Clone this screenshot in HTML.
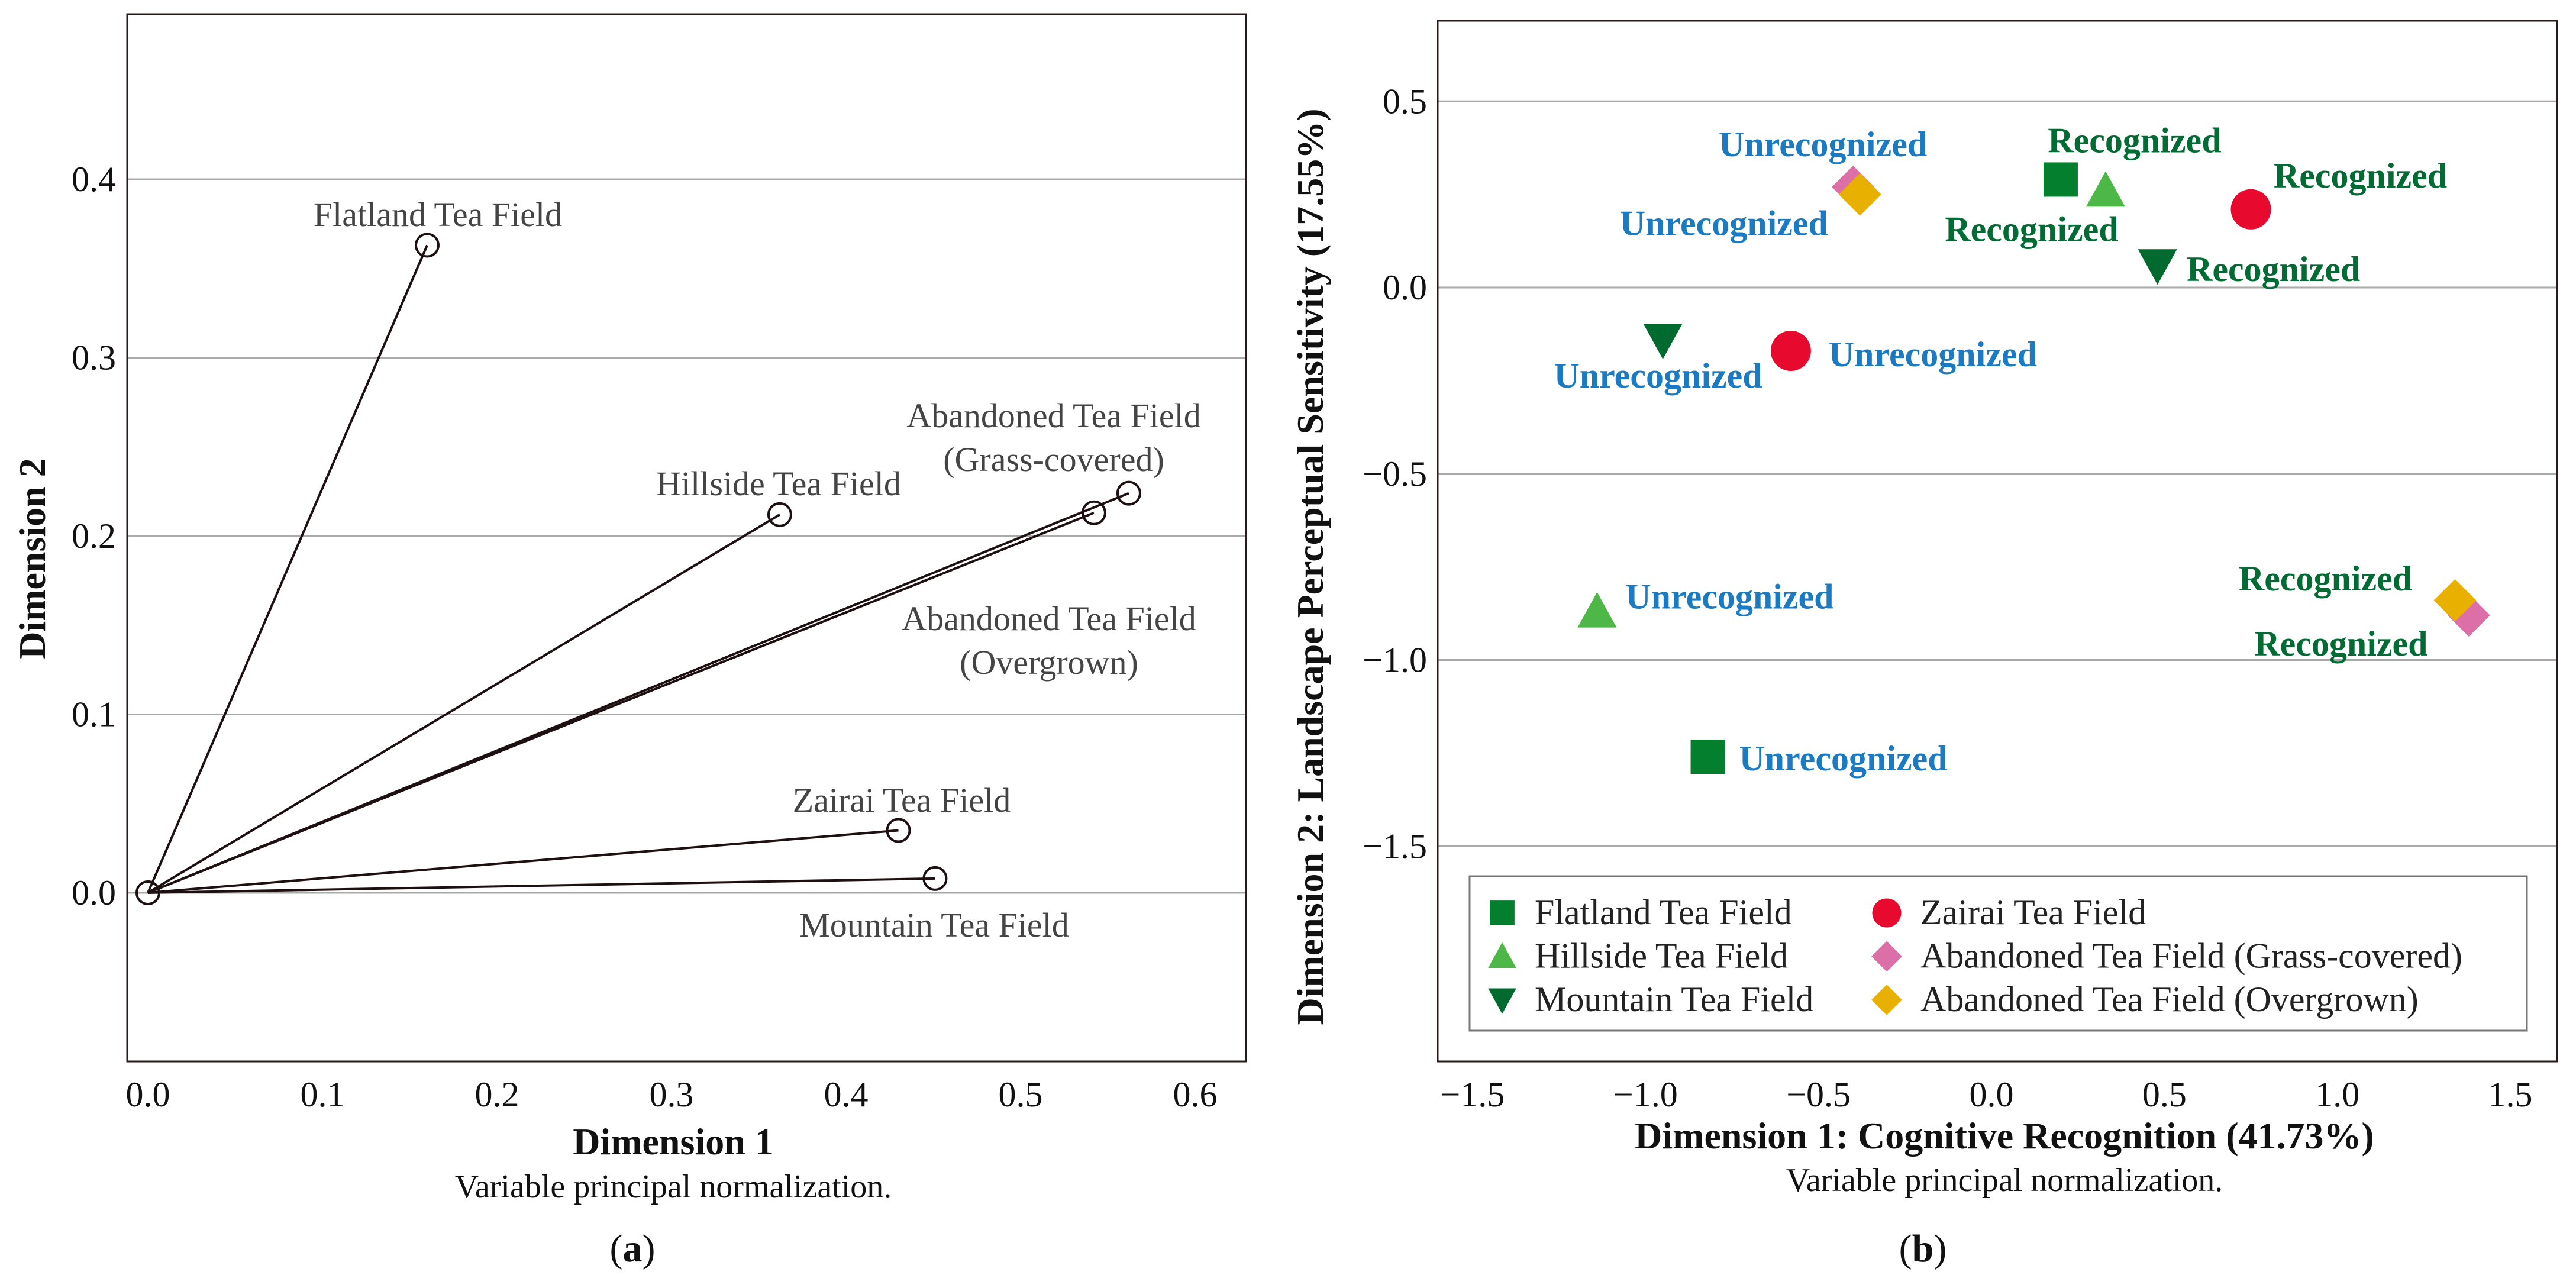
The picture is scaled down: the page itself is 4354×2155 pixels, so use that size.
<!DOCTYPE html>
<html><head><meta charset="utf-8"><style>
html,body{margin:0;padding:0;background:#fff}
svg{display:block}
text{font-family:"Liberation Serif",serif}
</style></head><body>
<svg id="s" width="4354" height="2155" viewBox="0 0 4354 2155" xmlns="http://www.w3.org/2000/svg">
<g id="pa"></g>
<g id="pb"></g>
</svg>
<script>
// Panel (a) data
const aNames = ["Flatland Tea Field","Hillside Tea Field","Abandoned Tea Field (Grass-covered)","Abandoned Tea Field (Overgrown)","Zairai Tea Field","Mountain Tea Field"];
const aDim1 = [0.160,0.362,0.562,0.542,0.430,0.451];
const aDim2 = [0.363,0.212,0.224,0.213,0.035,0.008];
const aXTicks = [0.0,0.1,0.2,0.3,0.4,0.5,0.6];
const aYTicks = [0.0,0.1,0.2,0.3,0.4];
const aLabelLines = [["Flatland Tea Field"],["Hillside Tea Field"],["Abandoned Tea Field","(Grass-covered)"],["Abandoned Tea Field","(Overgrown)"],["Zairai Tea Field"],["Mountain Tea Field"]];

// Panel (b) data
const bSeries = ["Flatland Tea Field","Hillside Tea Field","Mountain Tea Field","Zairai Tea Field","Abandoned Tea Field (Grass-covered)","Abandoned Tea Field (Overgrown)"];
const bRecX = [0.20,0.33,0.48,0.75,1.38,1.34];
const bRecY = [0.29,0.26,0.06,0.21,-0.88,-0.84];
const bUnrX = [-0.82,-1.14,-0.95,-0.58,-0.40,-0.38];
const bUnrY = [-1.26,-0.87,-0.14,-0.17,0.27,0.25];
const bXTicks = [-1.5,-1.0,-0.5,0.0,0.5,1.0,1.5];
const bYTicks = [0.5,0.0,-0.5,-1.0,-1.5];

const NS="http://www.w3.org/2000/svg";
function mk(parent,tag,attrs,txt){const e=document.createElementNS(NS,tag);for(const k in attrs)e.setAttribute(k,attrs[k]);if(txt!==undefined)e.textContent=txt;parent.appendChild(e);return e;}
function fmt(v){return (v<0?"\u2212":"")+Math.abs(v).toFixed(1);}

// ---------- Panel A ----------
const pa=document.getElementById('pa');
const ax=v=>250+v*2950, ay=v=>1509-v*3015;
const AL=215,AR=2106,AT=24,AB=1794;
aYTicks.forEach(t=>{
  const g=mk(pa,'line',{x1:AL,x2:AR,y1:ay(t),y2:ay(t),stroke:'#aaa','stroke-width':3});
  
  
  const l=mk(pa,'text',{x:196,y:ay(t)+20,'text-anchor':'end','font-size':60,fill:'#111'},t.toFixed(1));
  
  
});
aXTicks.forEach(t=>{
  const l=mk(pa,'text',{x:ax(t),y:1870,'text-anchor':'middle','font-size':60,fill:'#111'},t.toFixed(1));
  
  
});
const fa=mk(pa,'rect',{x:AL,y:AT,width:AR-AL,height:AB-AT,fill:'none',stroke:'#2a1a1a','stroke-width':3});


const aLabelPos=[[740,382],[1316,837],[1781,722],[1773,1065],[1524,1372],[1579,1583]];
aDim1.forEach((v,i)=>{
  const ln=mk(pa,'line',{x1:ax(0),y1:ay(0),x2:ax(v),y2:ay(aDim2[i]),stroke:'#1e1010','stroke-width':4});
  
  
  const c=mk(pa,'circle',{cx:ax(v),cy:ay(aDim2[i]),r:19,fill:'none',stroke:'#1e1010','stroke-width':4});
  
  
  const lines=aLabelLines[i];
  lines.forEach((s,j)=>{
    const t=mk(pa,'text',{x:aLabelPos[i][0],y:aLabelPos[i][1]+j*74,'text-anchor':'middle','font-size':58,fill:'#444'},s);
    
    
  });
});
const o=mk(pa,'circle',{cx:ax(0),cy:ay(0),r:19,fill:'none',stroke:'#1e1010','stroke-width':4});


let t;
t=mk(pa,'text',{x:0,y:0,transform:'translate(76,944) rotate(-90)','text-anchor':'middle','font-size':64,'font-weight':'bold',fill:'#111'},'Dimension 2');


t=mk(pa,'text',{x:1138,y:1951,'text-anchor':'middle','font-size':64,'font-weight':'bold',fill:'#111'},'Dimension 1');


t=mk(pa,'text',{x:1138,y:2024,'text-anchor':'middle','font-size':56,fill:'#111'},'Variable principal normalization.');


t=mk(pa,'text',{x:1069,y:2132,'text-anchor':'middle','font-size':66,fill:'#111'});
t.innerHTML='(<tspan font-weight="bold">a</tspan>)';



// ---------- Panel B ----------
const pb=document.getElementById('pb');
const bx=v=>3366+v*584.7, by=v=>486-v*629.5;
const BL=2430,BR=4322,BT=35,BB=1794;
bYTicks.forEach(v=>{
  const g=mk(pb,'line',{x1:BL,x2:BR,y1:by(v),y2:by(v),stroke:'#aaa','stroke-width':3});
  
  
  const l=mk(pb,'text',{x:2412,y:by(v)+20,'text-anchor':'end','font-size':60,fill:'#111'},fmt(v));
  
  
});
bXTicks.forEach(v=>{
  const l=mk(pb,'text',{x:bx(v),y:1870,'text-anchor':'middle','font-size':60,fill:'#111'},fmt(v));
  
  
});
const fb=mk(pb,'rect',{x:BL,y:BT,width:BR-BL,height:BB-BT,fill:'none',stroke:'#2a1a1a','stroke-width':3});


const colors=['#037f2e','#4db848','#006a2f','#e8092e','#dc6fa8','#e8b000'];
const shapes=['square','up','down','circle','diamond','diamond'];
function marker(g,shape,x,y,c,s){
  let e;
  if(shape==='square') e=mk(g,'rect',{x:x-29*s,y:y-29*s,width:58*s,height:58*s,fill:c});
  else if(shape==='circle') e=mk(g,'circle',{cx:x,cy:y,r:34*s,fill:c});
  else if(shape==='up') e=mk(g,'polygon',{points:`${x},${y-33*s} ${x+33*s},${y+27*s} ${x-33*s},${y+27*s}`,fill:c});
  else if(shape==='down') e=mk(g,'polygon',{points:`${x},${y+33*s} ${x+33*s},${y-27*s} ${x-33*s},${y-27*s}`,fill:c});
  else e=mk(g,'polygon',{points:`${x},${y-36*s} ${x+36*s},${y} ${x},${y+36*s} ${x-36*s},${y}`,fill:c});
  return e;
}
// label offsets relative to point (pixels)
const recOff=[[125,-46],[-125,85],[196,27],[185,-37],[-216,68],[-219,-17]];
const unrOff=[[229,23],[224,-5],[-8,81],[240,26],[-51,-52],[-230,69]];
bSeries.forEach((n,i)=>{
  const px=bx(bRecX[i]),py=by(bRecY[i]);
  const m=marker(pb,shapes[i],px,py,colors[i],1);
  
  
  const l=mk(pb,'text',{x:px+recOff[i][0],y:py+recOff[i][1],'text-anchor':'middle','font-size':60,'font-weight':'bold',fill:'#006b33'},'Recognized');
  
  
  const qx=bx(bUnrX[i]),qy=by(bUnrY[i]);
  const m2=marker(pb,shapes[i],qx,qy,colors[i],1);
  
  
  const l2=mk(pb,'text',{x:qx+unrOff[i][0],y:qy+unrOff[i][1],'text-anchor':'middle','font-size':60,'font-weight':'bold',fill:'#1a7ac4'},'Unrecognized');
  
  
});
// legend
const lg=mk(pb,'g',{});


const lb=mk(lg,'rect',{x:2484,y:1481,width:1787,height:261,fill:'#fff',stroke:'#777','stroke-width':3});


bSeries.forEach((n,i)=>{
  const col=i<3?0:1, row=i%3;
  const mx=col?3189:2539, ty=1562+row*73.5;
  const m=marker(lg,shapes[i],mx,ty-19,colors[i],0.72);
  
  
  const l=mk(lg,'text',{x:col?3246:2594,y:ty,'font-size':60,fill:'#222'},n);
  
  
});
t=mk(pb,'text',{x:0,y:0,transform:'translate(2236,958) rotate(-90)','text-anchor':'middle','font-size':64,'font-weight':'bold',fill:'#111'},'Dimension 2: Landscape Perceptual Sensitivity (17.55%)');


t=mk(pb,'text',{x:3388,y:1941,'text-anchor':'middle','font-size':64,'font-weight':'bold',fill:'#111'},'Dimension 1: Cognitive Recognition (41.73%)');


t=mk(pb,'text',{x:3388,y:2013,'text-anchor':'middle','font-size':56,fill:'#111'},'Variable principal normalization.');


t=mk(pb,'text',{x:3250,y:2132,'text-anchor':'middle','font-size':66,fill:'#111'});
t.innerHTML='(<tspan font-weight="bold">b</tspan>)';


</script>
</body></html>
